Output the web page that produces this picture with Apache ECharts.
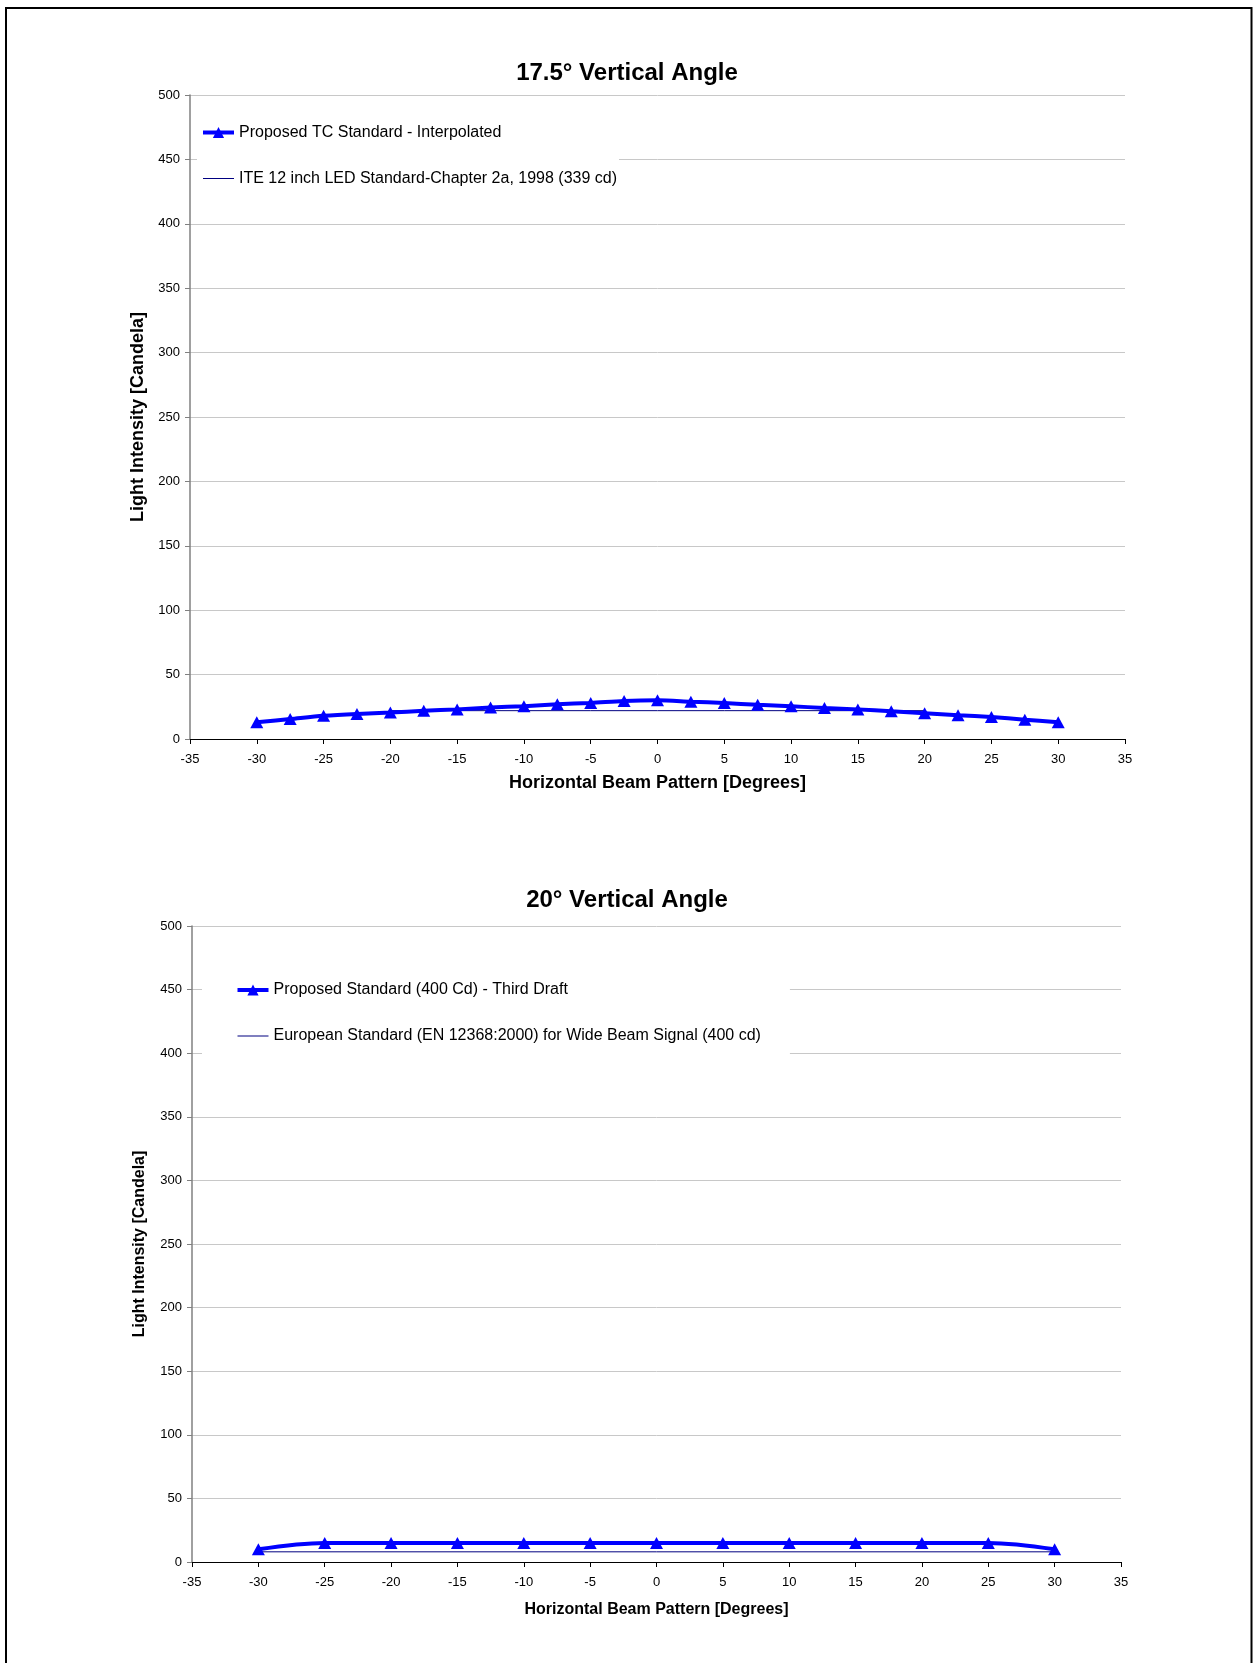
<!DOCTYPE html>
<html>
<head>
<meta charset="utf-8">
<title>Vertical Angle Beam Patterns</title>
<script src="https://cdn.jsdelivr.net/npm/echarts@6/dist/echarts.min.js"></script>
<style>
  html, body { margin: 0; padding: 0; background: #ffffff; }
  #chart { width: 1254px; height: 1663px; }
</style>
</head>
<body>
<div id="chart"></div>
<script>
// Horizontal angles (degrees) and intensities (candela)
const anglesTop = [-30, -27.5, -25, -22.5, -20, -17.5, -15, -12.5, -10, -7.5, -5, -2.5, 0,
                   2.5, 5, 7.5, 10, 12.5, 15, 17.5, 20, 22.5, 25, 27.5, 30];
const tcStandardTop = [13, 15.5, 18, 19.5, 20.5, 22, 23, 24.5, 25.5, 27, 28, 29.5, 30,
                       29, 28, 26.5, 25.5, 24, 23, 21.5, 20, 18.5, 17, 15, 13];
const iteAnglesTop = [-20, -15, -10, -5, 0, 5, 10, 15, 20];
const iteValuesTop = [22, 22, 22, 22, 22, 22, 22, 22, 22];

const anglesBottom = [-30, -25, -20, -15, -10, -5, 0, 5, 10, 15, 20, 25, 30];
const proposedBottom = [10, 15, 15, 15, 15, 15, 15, 15, 15, 15, 15, 15, 10];
const euroAnglesBottom = [-30, 30];
const euroValuesBottom = [8, 8];

const titleTop = '17.5° Vertical Angle';
const titleBottom = '20° Vertical Angle';
const xName = 'Horizontal Beam Pattern [Degrees]';
const yName = 'Light Intensity [Candela]';
const nameTcTop = 'Proposed TC Standard - Interpolated';
const nameIteTop = 'ITE 12 inch LED Standard-Chapter 2a, 1998 (339 cd)';
const nameProposedBottom = 'Proposed Standard (400 Cd) - Third Draft';
const nameEuroBottom = 'European Standard (EN 12368:2000) for Wide Beam Signal (400 cd)';

const FONT = '"Liberation Sans", Arial, Helvetica, sans-serif';
const BLUE = '#0000ff';
const NAVY = '#000080';

// thin legend key: a 1px bar across a 31x14 box (corner specks fix the box size)
const THIN_KEY = 'path://M0,0L0.01,0L0.01,0.01L0,0.01Z M0,6.5L31,6.5L31,7.5L0,7.5Z M30.99,13.99L31,13.99L31,14L30.99,14Z';

const pairs = (xs, ys) => xs.map((x, i) => [x, ys[i]]);

function xAxisFor(gridIndex, nameSize, nameGap) {
  return {
    type: 'value', gridIndex, min: -35, max: 35, interval: 5,
    name: xName, nameLocation: 'middle', nameGap,
    nameTextStyle: { fontFamily: FONT, fontSize: nameSize, fontWeight: 'bold', color: '#000' },
    axisLine: { show: true, onZero: false, lineStyle: { color: '#000', width: 1 } },
    axisTick: { show: true, inside: false, length: 5, lineStyle: { color: '#000' } },
    axisLabel: { fontFamily: FONT, fontSize: 13, color: '#000', margin: 14 },
    splitLine: { show: false }
  };
}

function yAxisFor(gridIndex, nameSize, nameGap) {
  return {
    type: 'value', gridIndex, min: 0, max: 500, interval: 50,
    name: yName, nameLocation: 'middle', nameGap, nameRotate: 90,
    nameTextStyle: { fontFamily: FONT, fontSize: nameSize, fontWeight: 'bold', color: '#000' },
    axisLine: { show: true, onZero: false, lineStyle: { color: '#808080', width: 1.5 } },
    axisTick: { show: true, inside: false, length: 5, lineStyle: { color: '#808080' } },
    axisLabel: { fontFamily: FONT, fontSize: 13, color: '#000', margin: 10 },
    splitLine: { show: true, lineStyle: { color: '#c8c8c8', width: 1 } }
  };
}

function legendFor(thickName, thinName, left, top, padding) {
  return {
    data: [
      { name: thickName, lineStyle: { width: 4 } },
      { name: thinName, icon: THIN_KEY }
    ],
    orient: 'vertical', left, top, padding,
    backgroundColor: '#ffffff', borderWidth: 0,
    itemWidth: 31, itemHeight: 14, itemGap: 30,
    textStyle: { fontFamily: FONT, fontSize: 16, color: '#000' },
    selectedMode: false
  };
}

const chart = echarts.init(document.getElementById('chart'), null, { renderer: 'canvas' });

chart.setOption({
  animation: false,
  backgroundColor: '#ffffff',
  title: [
    { text: titleTop, left: 'center', top: 56,
      textStyle: { fontFamily: FONT, fontSize: 24, fontWeight: 'bold', color: '#000' } },
    { text: titleBottom, left: 'center', top: 883,
      textStyle: { fontFamily: FONT, fontSize: 24, fontWeight: 'bold', color: '#000' } }
  ],
  grid: [
    { left: 190, right: 129, top: 95, height: 644, containLabel: false },
    { left: 192, right: 133, top: 926, height: 636, containLabel: false }
  ],
  xAxis: [xAxisFor(0, 18, 35), xAxisFor(1, 16, 40)],
  yAxis: [yAxisFor(0, 18, 42), yAxisFor(1, 16, 44)],
  legend: [
    legendFor(nameTcTop, nameIteTop, 197, 109.5, [15, 2, 15, 4]),
    legendFor(nameProposedBottom, nameEuroBottom, 202, 952, [30, 29, 25, 33.5])
  ],
  series: [
    {
      name: nameIteTop, type: 'line', xAxisIndex: 0, yAxisIndex: 0,
      data: pairs(iteAnglesTop, iteValuesTop),
      symbol: 'none', lineStyle: { color: NAVY, width: 1 }, itemStyle: { color: NAVY }, z: 2
    },
    {
      name: nameTcTop, type: 'line', xAxisIndex: 0, yAxisIndex: 0,
      data: pairs(anglesTop, tcStandardTop), smooth: 0.3,
      symbol: 'triangle', symbolSize: [13, 12], showAllSymbol: true,
      lineStyle: { color: BLUE, width: 4 }, itemStyle: { color: BLUE }, z: 3
    },
    {
      name: nameEuroBottom, type: 'line', xAxisIndex: 1, yAxisIndex: 1,
      data: pairs(euroAnglesBottom, euroValuesBottom),
      symbol: 'none', lineStyle: { color: NAVY, width: 1 }, itemStyle: { color: NAVY }, z: 2
    },
    {
      name: nameProposedBottom, type: 'line', xAxisIndex: 1, yAxisIndex: 1,
      data: pairs(anglesBottom, proposedBottom), smooth: 0.35,
      symbol: 'triangle', symbolSize: [13, 12], showAllSymbol: true,
      lineStyle: { color: BLUE, width: 4 }, itemStyle: { color: BLUE }, z: 3
    }
  ],
  graphic: [
    { type: 'rect', silent: true, z: 100,
      shape: { x: 6, y: 8, width: 1245.5, height: 1700 },
      style: { fill: 'none', stroke: '#000', lineWidth: 2 } }
  ]
});
</script>
</body>
</html>
